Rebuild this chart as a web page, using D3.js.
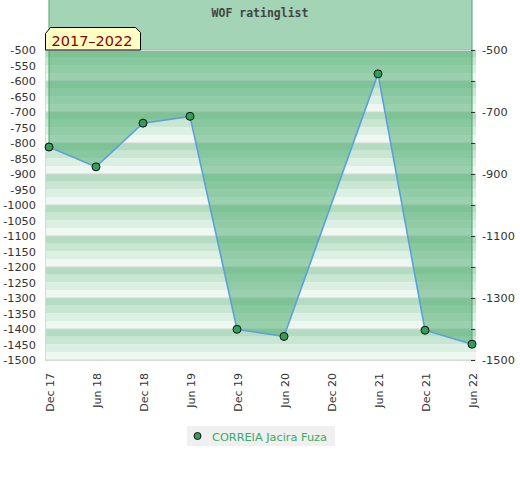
<!DOCTYPE html>
<html>
<head>
<meta charset="utf-8">
<script src="https://cdn.jsdelivr.net/npm/d3@7"></script>
<style>
body { margin: 0; background: #fff; }
text { font-family: "DejaVu Sans", sans-serif; }
</style>
</head>
<body>
<div id="chart"></div>
<script>
// months on the x axis (Dec 20 has no rating)
const months = ["Dec 17","Jun 18","Dec 18","Jun 19","Dec 19","Jun 20","Dec 20","Jun 21","Dec 21","Jun 22"]
const ratings = [-813, -877, -736, -714, -1401, -1424, null, -577, -1404, -1449]
const leftTicks = d3.range(-500, -1501, -50)
const rightTicks = [-500, -700, -900, -1100, -1300, -1500]
const gridTicks = d3.range(-500, -1501, -100)
const seriesName = "CORREIA Jacira Fuza"
const title = "WOF ratinglist"
const period = "2017\u20132022"

const width = 520, height = 480

const svg = d3.select("#chart").append("svg").attr("width", width).attr("height", height)

const x = d3.scalePoint().domain(months).range([49, 472])
const y = d3.scaleLinear().domain([-1500, -500]).range([360, 50])

const pts = months.map((m, i) => ({m: m, v: ratings[i]})).filter(d => d.v != null)

//=========================================/
// striped background, 4 bands per 100
const bandCols = ["#b4dcc1", "#c8e6d2", "#dcefe3", "#eef7f1"]
const bands = d3.range(-500, -1500, -25)
svg.selectAll(".band").data(bands).enter().append("rect")
  .attr("x", 45).attr("width", 431)
  .attr("y", d => y(d)).attr("height", d => y(d - 25) - y(d))
  .attr("fill", (d, i) => bandCols[i % 4])

svg.selectAll(".grid").data(gridTicks).enter().append("line")
  .attr("x1", 45).attr("x2", 476)
  .attr("y1", d => y(d)).attr("y2", d => y(d))
  .attr("stroke", "#d6d6d6")

svg.append("line").attr("x1", 45.5).attr("x2", 45.5).attr("y1", y(-500)).attr("y2", y(-1500)).attr("stroke", "#d8d8d8")
//=========================================/

// area goes from the line up to zero (above the picture)
const area = d3.area()
  .x(d => x(d.m))
  .y0(y(0))
  .y1(d => y(d.v))
svg.append("path").datum(pts)
  .attr("d", area)
  .attr("fill", "rgb(71,169,107)")
  .attr("fill-opacity", 0.5)

svg.append("line").attr("x1", x(pts[0].m)).attr("x2", x(pts[0].m))
  .attr("y1", y(0)).attr("y2", y(pts[0].v)).attr("stroke", "#4ea56e")
svg.append("line").attr("x1", x(pts[pts.length-1].m)).attr("x2", x(pts[pts.length-1].m))
  .attr("y1", y(0)).attr("y2", y(pts[pts.length-1].v)).attr("stroke", "#4ea56e")

svg.append("line").attr("x1", 45).attr("x2", 476).attr("y1", y(-500) + 0.5).attr("y2", y(-500) + 0.5).attr("stroke", "#d4d4d4")
svg.append("line").attr("x1", 45).attr("x2", 476).attr("y1", y(-1500) + 0.5).attr("y2", y(-1500) + 0.5).attr("stroke", "#d8d8d8")

svg.append("path").datum(pts)
  .attr("d", d3.line().x(d => x(d.m)).y(d => y(d.v)))
  .attr("fill", "none")
  .attr("stroke", "#5aa0dc")
  .attr("stroke-width", 1.6)

svg.selectAll(".dot").data(pts).enter().append("circle")
  .attr("cx", d => x(d.m)).attr("cy", d => y(d.v)).attr("r", 4)
  .attr("fill", "#339e5c").attr("stroke", "#111").attr("stroke-width", 1)

// title
svg.append("text").attr("x", 260).attr("y", 17).attr("text-anchor", "middle")
  .style("font-family", "'DejaVu Sans Mono', monospace").style("font-weight", "bold")
  .style("font-size", "11.5px").attr("fill", "#444").text(title)

// left axis (labels only)
svg.selectAll(".ly").data(leftTicks).enter().append("text")
  .attr("x", 36).attr("y", d => y(d)).attr("dy", "0.36em")
  .attr("text-anchor", "end").style("font-size", "11.3px").attr("fill", "#333")
  .text(d => d)

// right axis
const yAxis = d3.axisRight(y).tickValues(gridTicks).tickSize(4).tickFormat(d => rightTicks.includes(d) ? d : "")
const ry = svg.append("g").attr("transform", "translate(471,0)").call(yAxis)
ry.select(".domain").remove()
ry.selectAll("line").attr("stroke", "#333")
ry.selectAll("text").attr("x", 11).style("font-size", "11.3px").style("font-family", "'DejaVu Sans', sans-serif").attr("fill", "#333")

// x labels, rotated
svg.selectAll(".xl").data(months).enter().append("text")
  .attr("transform", d => `translate(${x(d) + 4.5},373) rotate(-90)`)
  .attr("text-anchor", "end").style("font-size", "11px").attr("fill", "#333")
  .text(d => d)

// period label box
const bx = 45.5, by = 27.5, bw = 95, bh = 22.5
svg.append("path")
  .attr("d", `M${bx},${by+bh} L${bx},${by+6} L${bx+5},${by} L${bx+bw-5},${by} L${bx+bw},${by+5} L${bx+bw},${by+bh} Z`)
  .attr("fill", "#ffffc4").attr("stroke", "#000")
svg.append("text").attr("x", 92).attr("y", 45.5).attr("text-anchor", "middle")
  .style("font-size", "14.5px").attr("fill", "#8b0000").text(period)

// legend
const lg = svg.append("g")
lg.append("rect").attr("x", 187).attr("y", 426).attr("width", 148).attr("height", 20).attr("fill", "#f0f0f0")
lg.append("circle").attr("cx", 197.5).attr("cy", 436).attr("r", 3.5).attr("fill", "#339e5c").attr("stroke", "#111")
lg.append("text").attr("x", 212).attr("y", 440.5).style("font-size", "11.3px").attr("fill", "#3aaa64").text(seriesName)
</script>
</body>
</html>
